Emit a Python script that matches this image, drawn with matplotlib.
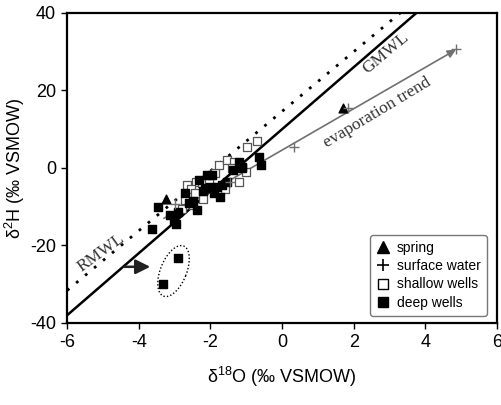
import numpy as np
import matplotlib
matplotlib.use("Agg")
import matplotlib.pyplot as plt
from matplotlib.lines import Line2D

plt.rcParams["font.family"] = ["Liberation Sans", "DejaVu Sans"]
plt.rcParams["axes.unicode_minus"] = False

# deep wells (filled squares)
deep_x = [-3.31, -2.90, -3.63, -3.46, -3.12, -3.03, -2.90, -2.95, -2.70, -2.37,
          -2.33, -2.14, -2.09, -2.00, -1.95, -1.81, -1.72, -1.67, -1.53, -1.36,
          -1.21, -1.11, -1.11, -0.65, -0.60, -2.50, -2.20, -1.90, -2.60]
deep_y = [-29.9, -23.2, -15.8, -10.1, -12.1, -13.4, -11.3, -14.5, -6.5, -10.8,
          -3.1, -5.2, -1.8, -4.8, -1.8, -4.8, -7.4, -4.4, -3.5, -0.5,
          1.6, -0.1, 0.3, 2.9, 0.8, -8.5, -6.0, -6.5, -9.0]

# shallow wells (open squares)
shallow_x = [-2.70, -2.65, -2.39, -2.23, -1.86, -1.77, -1.53, -1.35, -1.40, -0.98,
             -0.70, -1.20, -2.05, -2.50, -2.80, -2.20, -1.60, -2.55, -2.42, -1.00]
shallow_y = [-8.3, -4.4, -3.5, -3.9, -1.4, 0.8, 2.1, 1.6, -0.1, 5.5,
             7.0, -3.5, -4.0, -9.5, -10.5, -8.0, -5.5, -5.5, -6.5, -1.0]

# springs (triangles)
spring_x = [-3.24, 1.70]
spring_y = [-8.1, 15.5]

# surface water (+)
surf_x = [-2.98, -1.44, 0.33, 1.85, 4.85]
surf_y = [-9.3, -3.5, 5.5, 15.5, 30.8]

# meteoric water lines
gmwl_slope, gmwl_icpt = 8.0, 10.0
rmwl_slope, rmwl_icpt = 7.7, 14.6
line_x = np.array([-7.0, 6.0])

# evaporation trend start / end
evap_start = (-3.3, -13.0)
evap_end = (4.85, 30.5)

fig = plt.figure(figsize=(5.01, 4.05), dpi=100)
ax = fig.add_axes([0.134, 0.2025, 0.858, 0.7655])

ax.plot(line_x, rmwl_slope * line_x + rmwl_icpt, color="black", lw=2.0,
        ls=(0, (1, 3.2)), dash_capstyle="butt", zorder=2)
ax.plot(line_x, gmwl_slope * line_x + gmwl_icpt, color="black", lw=1.8, zorder=2)

ax.annotate("", xy=evap_end, xytext=evap_start,
            arrowprops=dict(arrowstyle="-|>", color="#707070", lw=1.2,
                            mutation_scale=12, shrinkA=0, shrinkB=0), zorder=3)

ax.scatter(shallow_x, shallow_y, marker="s", s=30, facecolor="white",
           edgecolor="#555555", linewidth=0.9, zorder=4)
ax.scatter(deep_x, deep_y, marker="s", s=30, color="black", zorder=5)
ax.scatter(spring_x, spring_y, marker="^", s=40, color="black", zorder=5)
ax.scatter(surf_x, surf_y, marker="+", s=45, color="#707070", linewidth=1.0, zorder=5)

# dotted ellipse around the two outliers (drawn in pixel-like units)
cx, cy = -3.03, -26.6
sx, sy = 35.75, 3.875
a, b, th = 13.0, 27.0, np.deg2rad(-22)
t = np.linspace(0, 2 * np.pi, 200)
ex = cx + (a * np.cos(t) * np.cos(th) - b * np.sin(t) * np.sin(th)) / sx
ey = cy + (a * np.cos(t) * np.sin(th) + b * np.sin(t) * np.cos(th)) / sy
ax.plot(ex, ey, color="black", lw=1.0, ls=(0, (1, 1.5)), zorder=3)

ax.annotate("", xy=(-3.68, -25.5), xytext=(-4.4, -25.5),
            arrowprops=dict(arrowstyle="-|>", color="#222222", lw=1.8,
                            mutation_scale=22, shrinkA=0, shrinkB=0))

serif = ["Liberation Serif", "DejaVu Serif"]
ax.text(2.9, 29.5, "GMWL", rotation=40, family=serif, fontsize=12.5,
        color="#333333", ha="center", va="center")
ax.text(2.67, 14.3, "evaporation trend", rotation=31, family=serif,
        fontsize=12.5, color="#333333", ha="center", va="center")
ax.text(-5.05, -22.0, "RMWL", rotation=36, family=serif, fontsize=12.5,
        color="#333333", ha="center", va="center")

ax.set_xlim(-6, 6)
ax.set_ylim(-40, 40)
xticks = [-6, -4, -2, 0, 2, 4, 6]
yticks = [-40, -20, 0, 20, 40]
ax.set_xticks(xticks)
ax.set_xticklabels([str(v) for v in xticks])
ax.set_yticks(yticks)
ax.set_yticklabels([str(v) for v in yticks])
ax.tick_params(direction="out", length=4, width=1, labelsize=13, pad=4)
for sp in ax.spines.values():
    sp.set_linewidth(1.6)

ax.set_xlabel(r"$\mathregular{\delta^{18}}$O (‰ VSMOW)", fontsize=13, labelpad=10)
ax.set_ylabel(r"$\mathregular{\delta^{2}}$H (‰ VSMOW)", fontsize=13, labelpad=2)

handles = [
    Line2D([], [], marker="^", ls="none", color="black", ms=8),
    Line2D([], [], marker="+", ls="none", color="black", ms=9, mew=1.2),
    Line2D([], [], marker="s", ls="none", mfc="white", mec="black", ms=7),
    Line2D([], [], marker="s", ls="none", color="black", ms=7),
]
labels = ["spring", "surface water", "shallow wells", "deep wells"]
leg = ax.legend(handles, labels, loc="lower right", bbox_to_anchor=(0.977, 0.023),
                borderaxespad=0, fontsize=10, handlelength=1.0, handletextpad=0.5,
                labelspacing=0.3, borderpad=0.45, fancybox=True, framealpha=1)
leg.get_frame().set_edgecolor("#777777")
leg.get_frame().set_linewidth(1.0)

fig.savefig("out.png", dpi=100)
